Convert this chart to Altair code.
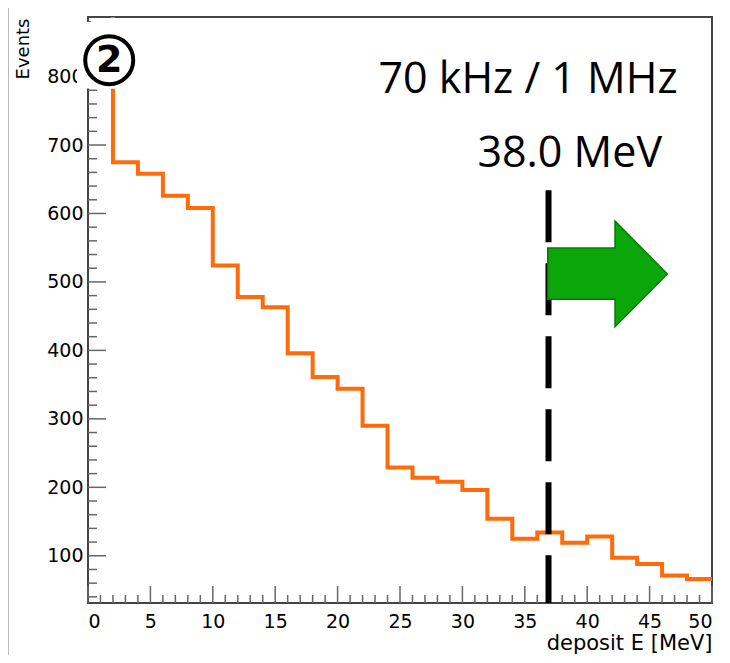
import altair as alt
import pandas as pd

# ---- data ----
bin_edges = [0, 2, 4, 6, 8, 10, 12, 14, 16, 18, 20, 22, 24, 26, 28, 30, 32, 34, 36, 38, 40, 42, 44, 46, 48, 50]
bin_counts = [1000, 675, 658, 626, 608, 524, 478, 463, 396, 361, 344, 290, 229, 214, 208, 196,
              154, 125, 134, 119, 128, 97, 88, 71, 66]

x_major = [0, 5, 10, 15, 20, 25, 30, 35, 40, 45, 50]
x_minor = [v for v in range(0, 51) if v % 5 != 0]
y_major = [100, 200, 300, 400, 500, 600, 700, 800]
y_minor = [v for v in range(40, 881, 20) if v % 100 != 0]

cut_value = 36.9           # dashed threshold line position
cut_label = "38.0 MeV"
rate_label = "70 kHz / 1 MHz"
panel_label = "2"

X_DOMAIN = [0, 50]
Y_DOMAIN = [31, 887]
W, H = 624, 586

hist = pd.DataFrame({
    "E": bin_edges,
    "N": bin_counts + [bin_counts[-1]],
})

xs = alt.Scale(domain=X_DOMAIN, nice=False, zero=False)
ys = alt.Scale(domain=Y_DOMAIN, nice=False, zero=False)

AX_FONT = "DejaVu Sans"

x_axis = alt.Axis(values=x_major, format="d", ticks=False, tickSize=0, domain=False, grid=False,
                  labelFont=AX_FONT, labelFontSize=19, labelColor="#000", labelPadding=9,
                  title="deposit E [MeV]", titleFont=AX_FONT, titleFontSize=21,
                  titleFontWeight="normal", titleColor="#000",
                  titleX=W, titleY=46, titleAlign="right", titleBaseline="alphabetic")
y_axis = alt.Axis(values=y_major, format="d", ticks=False, tickSize=0, domain=False, grid=False,
                  labelFont=AX_FONT, labelFontSize=19, labelColor="#000", labelPadding=5,
                  title="Events", titleFont=AX_FONT, titleFontSize=18,
                  titleFontWeight="normal", titleColor="#000",
                  titleX=-60, titleY=1, titleAngle=-90, titleAlign="right",
                  titleBaseline="alphabetic")

base = alt.Chart(hist)

histo = base.mark_line(interpolate="step-after", color="#ff6a0a", strokeWidth=4,
                       strokeJoin="miter", clip=True).encode(
    x=alt.X("E:Q", scale=xs, axis=x_axis),
    y=alt.Y("N:Q", scale=ys, axis=y_axis),
)

tick_color = "#666"
ymaj = alt.Chart(pd.DataFrame({"v": y_major})).mark_rule(color=tick_color, strokeWidth=1.5).encode(
    y=alt.Y("v:Q", scale=ys), x=alt.value(0), x2=alt.value(18))
ymin = alt.Chart(pd.DataFrame({"v": y_minor})).mark_rule(color=tick_color, strokeWidth=1.5).encode(
    y=alt.Y("v:Q", scale=ys), x=alt.value(0), x2=alt.value(9))
xmaj = alt.Chart(pd.DataFrame({"v": x_major})).mark_rule(color=tick_color, strokeWidth=1.5).encode(
    x=alt.X("v:Q", scale=xs), y=alt.value(H), y2=alt.value(H - 17))
xmin = alt.Chart(pd.DataFrame({"v": x_minor})).mark_rule(color=tick_color, strokeWidth=1.5).encode(
    x=alt.X("v:Q", scale=xs), y=alt.value(H), y2=alt.value(H - 8))

cut = alt.Chart(pd.DataFrame({"x": [cut_value], "y": [634], "y2": [Y_DOMAIN[0]]})).mark_rule(
    color="#000", strokeWidth=6, strokeDash=[52, 21]).encode(
    x=alt.X("x:Q", scale=xs), y=alt.Y("y:Q", scale=ys), y2="y2:Q")

arrow_path = ("M -1 -0.435 L 0.125 -0.435 L 0.125 -0.883 L 1 0 L 0.125 0.883 "
              "L 0.125 0.423 L -1 0.423 Z")
arrow = alt.Chart(pd.DataFrame({"x": [41.63], "y": [511.7]})).mark_point(
    shape=arrow_path, size=119.6 ** 2, filled=True, fill="#0aa60a", stroke="#067c06",
    strokeWidth=1.5, opacity=1).encode(
    x=alt.X("x:Q", scale=xs), y=alt.Y("y:Q", scale=ys))

txt = alt.Chart(pd.DataFrame({"x": [35.26, 38.6], "y": [776, 668], "t": [rate_label, cut_label]})).mark_text(
    font="Open Sans", fontSize=43, color="#000", align="center", baseline="alphabetic").encode(
    x=alt.X("x:Q", scale=xs), y=alt.Y("y:Q", scale=ys), text="t:N")

# white patches behind the circled panel number
patch = alt.Chart(pd.DataFrame({"x": [-0.88, 0.25], "x2": [4.17, 4.17],
                                "y": [879.6, 885.5], "y2": [782.5, 782.5]})).mark_rect(
    color="white", clip=False).encode(
    x=alt.X("x:Q", scale=xs), x2="x2:Q", y=alt.Y("y:Q", scale=ys), y2="y2:Q")

circ = alt.Chart(pd.DataFrame({"x": [1.7], "y": [824]})).mark_point(
    shape="circle", size=48 ** 2, filled=False, stroke="#000", strokeWidth=4, opacity=1).encode(
    x=alt.X("x:Q", scale=xs), y=alt.Y("y:Q", scale=ys))
circ_txt = alt.Chart(pd.DataFrame({"x": [1.7], "y": [824], "t": [panel_label]})).mark_text(
    font="DejaVu Sans", fontWeight="bold", fontSize=38, color="#000", align="center",
    baseline="middle", dy=1).encode(
    x=alt.X("x:Q", scale=xs), y=alt.Y("y:Q", scale=ys), text="t:N")

edge = alt.Chart(pd.DataFrame({"a": [0]})).mark_rule(color="#bbb", strokeWidth=1).encode(
    x=alt.value(-79.5), y=alt.value(-9), y2=alt.value(H + 52))

chart = alt.layer(
    edge, histo, ymin, ymaj, xmin, xmaj, cut, arrow, txt, patch, circ, circ_txt
).properties(
    width=W, height=H,
    autosize=alt.AutoSizeParams(type="none"),
    padding={"left": 80, "top": 9, "right": 10, "bottom": 52},
    background="white",
).configure_view(stroke="#444", strokeWidth=2)

chart.save("out.html", embed_options={"renderer": "svg", "actions": False})
